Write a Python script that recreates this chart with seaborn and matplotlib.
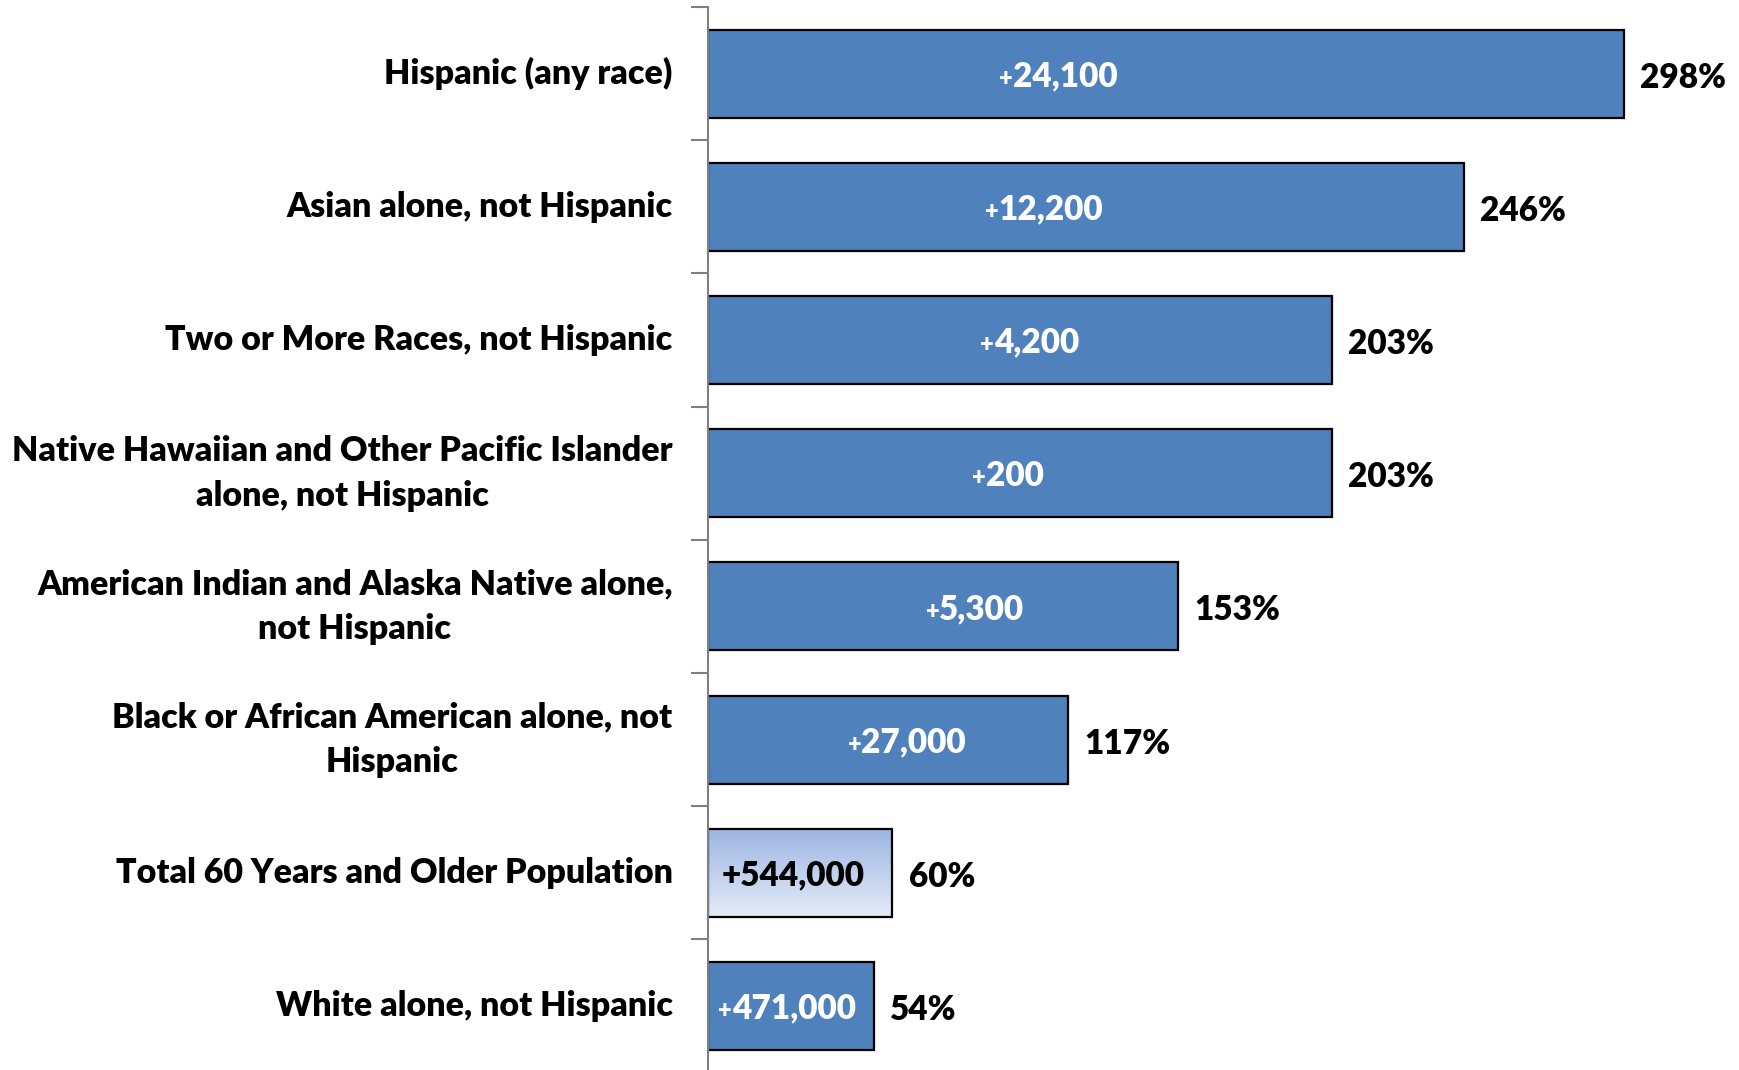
import numpy as np
import pandas as pd
import matplotlib
matplotlib.use("Agg")
import matplotlib.pyplot as plt
import seaborn as sns

# Growth of the 60+ population by race/ethnicity
categories = [
    "Hispanic (any race)",
    "Asian alone, not Hispanic",
    "Two or More Races, not Hispanic",
    "Native Hawaiian and Other Pacific Islander\nalone, not Hispanic",
    "American Indian and Alaska Native alone,\nnot Hispanic",
    "Black or African American alone, not\nHispanic",
    "Total 60 Years and Older Population",
    "White alone, not Hispanic",
]
pct_growth = [298, 246, 203, 203, 153, 117, 60, 54]
count_growth = ["24,100", "12,200", "4,200", "200", "5,300", "27,000", "544,000", "471,000"]

# where the count label sits inside each bar (x, in percent units)
inner_label_x = [113.9, 109.3, 104.7, 97.6, 86.9, 64.7, 27.7, 25.7]

TOTAL = "Total 60 Years and Older Population"
BLUE = "#4f81bd"
WEIGHT = "heavy"

df = pd.DataFrame({"category": categories, "pct": pct_growth, "count": count_growth})

sns.set_theme(style="white")
plt.rcParams["font.family"] = ["Lato", "DejaVu Sans"]
plt.rcParams["font.weight"] = WEIGHT

W, H = 1740, 1070
fig = plt.figure(figsize=(W / 100, H / 100), dpi=100)
ax_left = 708 / W
ax_top = 1 - 7 / H
ax_h = 8 * 133.2 / H
ax = fig.add_axes([ax_left, ax_top - ax_h, 1 - ax_left, ax_h])

sns.barplot(data=df, x="pct", y="category", orient="h", color=BLUE,
            saturation=1, edgecolor="black", linewidth=1.6, width=0.66, ax=ax)

ax.set_xlim(0, (W - 708) / 3.074)
ax.set_ylim(len(categories) - 0.5, -0.5)

# gradient fill for the total bar
total_idx = categories.index(TOTAL)
patch = ax.patches[total_idx]
patch.set_facecolor("none")
x0, y0 = patch.get_x(), patch.get_y()
w, h = patch.get_width(), patch.get_height()
top_c = np.array([0x9c, 0xb6, 0xe2]) / 255
bot_c = np.array([0xe4, 0xec, 0xf8]) / 255
t = np.linspace(0, 1, 256)[:, None]
grad = (top_c * (1 - t) + bot_c * t)[:, None, :]
im = ax.imshow(grad, extent=(x0, x0 + w, y0 + h, y0), aspect="auto",
               interpolation="bilinear", zorder=patch.get_zorder() - 0.1)
im.set_clip_path(patch)

# labels
fs_cat = 24.5
fs_pct = 24
fs_num = 24
for i, (p, c, lx) in enumerate(zip(pct_growth, count_growth, inner_label_x)):
    ax.text(p + 5.3, i + 0.03, f"{p}%", ha="left", va="center", fontsize=fs_pct,
            fontweight=WEIGHT, color="black")
    if categories[i] == TOTAL:
        ax.text(lx, i + 0.02, f"+{c}", ha="center", va="center", fontsize=fs_num,
                fontweight=WEIGHT, color="black")
    else:
        num = ax.text(lx + 2.2, i + 0.02, c, ha="center", va="center",
                      fontsize=fs_num, fontweight=WEIGHT, color="white")
        ax.annotate("+", xy=(0, 0.42), xycoords=num, ha="right", va="center",
                    fontsize=fs_num - 7, fontweight=WEIGHT, color="white")

# axis styling
ax.set_xlabel("")
ax.set_ylabel("")
ax.set_xticks([])
ax.set_yticks(np.arange(len(categories)))
ax.set_yticklabels(categories, fontsize=fs_cat, fontweight=WEIGHT,
                   multialignment="center", linespacing=1.5, color="black")
for lab in ax.get_yticklabels():
    lab.set_verticalalignment("center")
ax.tick_params(axis="y", length=0, pad=25.5, labelcolor="black")
ax.set_yticks(np.arange(-0.5, len(categories)), minor=True)
ax.tick_params(axis="y", which="minor", length=12, width=1.5, color="#808080", left=True)
for s in ["top", "right", "bottom"]:
    ax.spines[s].set_visible(False)
ax.spines["left"].set_color("#808080")
ax.spines["left"].set_linewidth(1.5)

fig.savefig("out.png", dpi=100)
